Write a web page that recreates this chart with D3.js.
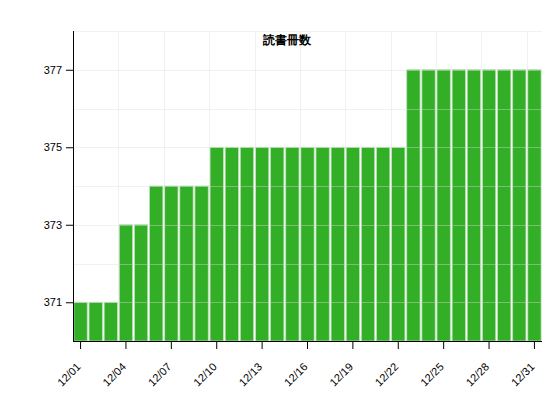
<!DOCTYPE html>
<html>
<head>
<meta charset="utf-8">
<script src="https://cdn.jsdelivr.net/npm/d3@7"></script>
<style>
  body { margin: 0; background: #fff; }
  svg text { font-family: "Liberation Sans", Arial, sans-serif; }
</style>
</head>
<body>
<svg id="chart" width="551" height="401"></svg>
<script>
const days = ['12/01', '12/02', '12/03', '12/04', '12/05', '12/06', '12/07', '12/08', '12/09', '12/10',
    '12/11', '12/12', '12/13', '12/14', '12/15', '12/16', '12/17', '12/18', '12/19', '12/20',
    '12/21', '12/22', '12/23', '12/24', '12/25', '12/26', '12/27', '12/28', '12/29', '12/30', '12/31'];
const books = [371, 371, 371, 373, 373, 374, 374, 374, 374, 375,
    375, 375, 375, 375, 375, 375, 375, 375, 375, 375,
    375, 375, 377, 377, 377, 377, 377, 377, 377, 377, 377];
const yTickValues = [371, 373, 375, 377];
const yGridValues = [370, 371, 372, 373, 374, 375, 376, 377, 378];
const xTickLabels = ['12/01', '12/04', '12/07', '12/10', '12/13', '12/16', '12/19', '12/22', '12/25', '12/28', '12/31'];
const title = '読書冊数';

const svg = d3.select('#chart');
const LEFT = 73, RIGHT = 542, TOP = 31, BOTTOM = 341;
const AXIS_FONT = '"Liberation Sans", Arial, sans-serif';

const x = d3.scaleBand().domain(days).range([LEFT, RIGHT]).paddingInner(0.12).paddingOuter(0.06);
const xStep = d3.scaleBand().domain(days).range([LEFT, RIGHT]);
const y = d3.scaleLinear().domain([370, 378]).range([BOTTOM, TOP]);

// bars
svg.append('g')
    .selectAll('rect')
    .data(days)
    .join('rect')
    .attr('x', d => x(d))
    .attr('y', (d, i) => y(books[i]))
    .attr('width', x.bandwidth())
    .attr('height', (d, i) => BOTTOM - y(books[i]))
    .attr('fill', '#33ae27')
    .attr('stroke', '#b9e0b5')
    .attr('stroke-width', 0.8);

// grid (drawn faintly over the bars, as in the original)
const grid = svg.append('g').attr('stroke', '#dcdcdc').attr('stroke-opacity', 0.4).attr('stroke-width', 1);
grid.selectAll('line.h')
    .data(yGridValues)
    .join('line')
    .attr('class', 'h')
    .attr('x1', LEFT).attr('x2', RIGHT)
    .attr('y1', d => Math.round(y(d)) + 0.5)
    .attr('y2', d => Math.round(y(d)) + 0.5);
grid.selectAll('line.v')
    .data(xTickLabels)
    .join('line')
    .attr('class', 'v')
    .attr('x1', d => Math.round(xStep(d)) + 0.5)
    .attr('x2', d => Math.round(xStep(d)) + 0.5)
    .attr('y1', TOP).attr('y2', BOTTOM);

// axes
const yAxis = svg.append('g')
    .attr('transform', `translate(${LEFT},0)`)
    .call(d3.axisLeft(y).tickValues(yTickValues).tickSize(7).tickPadding(4).tickFormat(d3.format('d')));
yAxis.select('.domain').attr('stroke', '#000').attr('d', `M0.5,${TOP}V${BOTTOM}`);
yAxis.selectAll('text').attr('font-size', 11).attr('fill', '#000').attr('font-family', AXIS_FONT);

const xAxis = svg.append('g')
    .attr('transform', `translate(0,${BOTTOM})`)
    .call(d3.axisBottom(xStep).tickValues(xTickLabels).tickSize(8).tickPadding(8));
xAxis.select('.domain').attr('stroke', '#000').attr('d', `M${LEFT},0.5H${RIGHT}`);
xAxis.selectAll('text')
    .attr('font-size', 11)
    .attr('fill', '#000')
    .attr('font-family', AXIS_FONT)
    .attr('text-anchor', 'end')
    .attr('dx', '-1.65em')
    .attr('dy', '0.3em')
    .attr('transform', 'rotate(-45)');

// title
svg.append('text')
    .text(title)
    .attr('x', 287)
    .attr('y', 44)
    .attr('text-anchor', 'middle')
    .attr('font-size', 12)
    .attr('font-weight', 700)
    .attr('font-family', '"Noto Sans CJK JP", sans-serif')
    .attr('fill', '#000');
</script>
</body>
</html>
